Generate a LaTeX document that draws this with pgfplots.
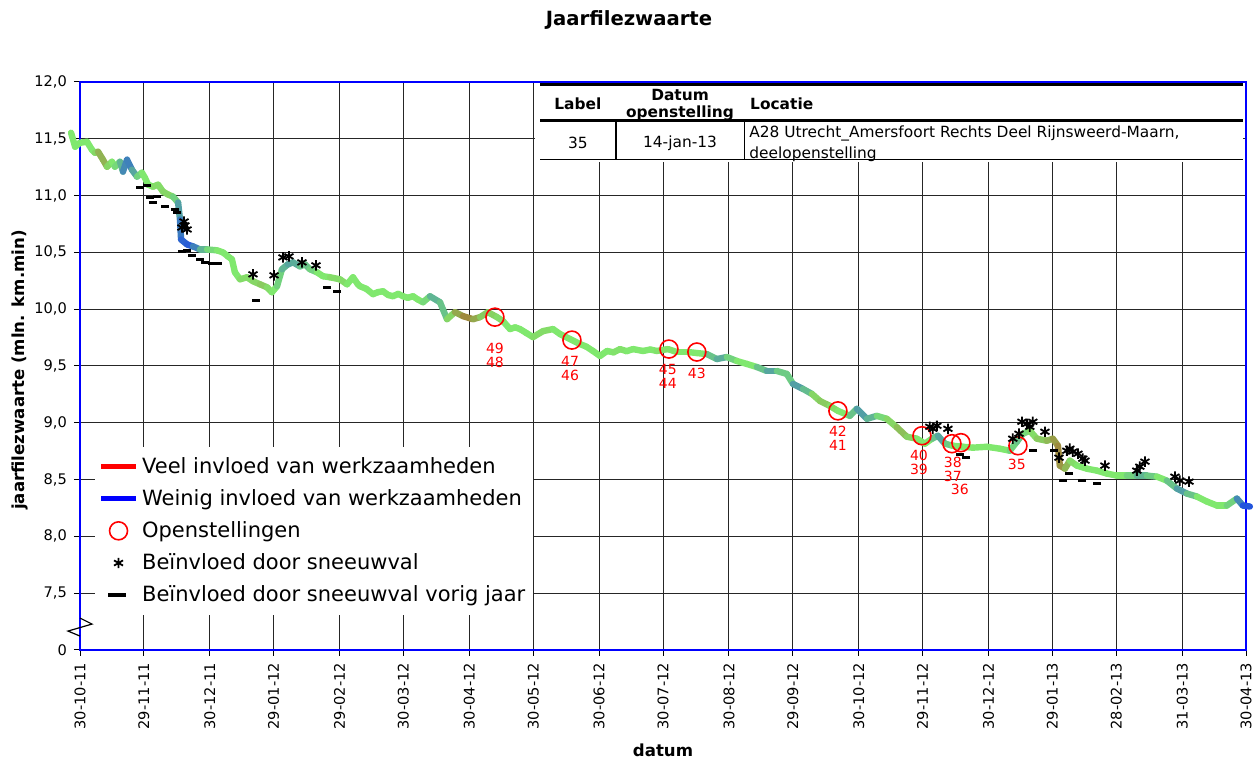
\documentclass[border=0pt]{standalone}
\usepackage{fontspec}
\setmainfont{DejaVu Sans}
\usepackage{pgfplots}
\pgfplotsset{compat=1.18}
\begin{document}
\begin{tikzpicture}
\begin{axis}[
  scale only axis, width=583pt, height=284pt,
  xmin=0, xmax=548, ymin=7, ymax=12,
  clip=false,
  axis line style={blue, line width=1pt},
  xtick={0,30,61,91,122,152,183,213,244,274,305,335,366,396,427,457,487,518,548},
  xticklabels={30-10-11,29-11-11,30-12-11,29-01-12,29-02-12,30-03-12,30-04-12,30-05-12,30-06-12,30-07-12,30-08-12,29-09-12,30-10-12,29-11-12,30-12-12,29-01-13,28-02-13,31-03-13,30-04-13},
  xticklabel style={rotate=90, anchor=east, font=\fontsize{7.3}{8}\selectfont},
  ytick={7,7.5,8,8.5,9,9.5,10,10.5,11,11.5,12},
  yticklabels={0,{7,5},{8,0},{8,5},{9,0},{9,5},{10,0},{10,5},{11,0},{11,5},{12,0}},
  yticklabel style={font=\fontsize{7.3}{8}\selectfont},
  xtick pos=left, ytick pos=left,
  grid=major, major grid style={black!85, line width=0.5pt},
  tick align=outside, major tick length=3pt, tick style={black, line width=0.5pt},
  xlabel={datum}, ylabel={jaarfilezwaarte (mln. km.min)},
  xlabel style={at={(axis description cs:0.5,-0.176)}, anchor=center, font=\bfseries\fontsize{8.3}{10}\selectfont},
  ylabel style={at={(axis description cs:-0.0515,0.493)}, anchor=center, font=\bfseries\fontsize{8.3}{10}\selectfont},
  colormap={wz}{rgb255=(165,115,50) rgb255=(128,232,110) rgb255=(35,85,220)},
  point meta min=-1, point meta max=1,
  legend cell align=left,
  legend style={at={(rel axis cs:0.0125,0.358)}, anchor=north west, draw=none, fill=white,
    font=\fontsize{10.5}{12}\selectfont, row sep=2.6pt, inner xsep=2pt, inner ysep=3pt},
]
\addplot[mesh, point meta=explicit, line width=3.2pt, line cap=round, line join=round, forget plot, shader=flat]
 table[x=d, y=v, meta=c] {
d v c
-4.2 11.553 0
-2.3 11.430 0
0 11.465 0
3.3 11.474 0
5.6 11.404 0
7.0 11.377 0
8.5 11.386 -0.3
10.8 11.316 -0.6
12.7 11.254 -0.3
15.0 11.298 0
16.4 11.254 0
18.8 11.298 0.2
20.2 11.211 0.5
22.1 11.316 0.8
24.4 11.228 0.6
26.8 11.167 0.3
29.1 11.202 0
30.5 11.158 0
32.0 11.096 0
34.3 11.079 0
36.7 11.096 -0.2
39.0 11.035 0
41.4 11.009 -0.3
43.7 10.991 0
46.1 10.939 0.3
47.0 10.789 0.7
47.5 10.614 0.8
50.3 10.570 1
53.1 10.553 0.9
56.4 10.526 0.5
59.7 10.526 0.2
64.4 10.518 0
67.2 10.500 0
69.5 10.465 0
71.4 10.439 0
72.8 10.325 0
75.2 10.263 0
78.5 10.281 -0.2
81.3 10.246 0
84.6 10.219 -0.3
87.9 10.193 -0.2
90.2 10.149 0
92.6 10.202 0
94.9 10.351 0.3
97.7 10.395 0.4
100.1 10.412 0.5
103.4 10.377 0.3
105.7 10.395 0.2
108.1 10.351 0.3
111.4 10.325 0
114.2 10.290 0
117.5 10.281 0
122.2 10.263 -0.2
125.5 10.219 0
128.3 10.281 0
130.6 10.219 0
131.6 10.202 0
134.5 10.180 0
137.7 10.132 0
140.0 10.150 0
142.4 10.158 0
144.8 10.125 0
147.1 10.114 0
149.5 10.135 0
151.8 10.114 0
154.0 10.100 0
156.5 10.114 0
158.8 10.085 0
161.2 10.061 0
164.5 10.114 0.2
169.2 10.061 0.5
172.5 9.912 0
176.2 9.974 -0.3
180.0 9.939 -0.8
184.7 9.912 -0.8
188.0 9.930 -0.3
191.7 9.974 -0.2
196.0 9.930 -0.2
198.8 9.895 0
202.1 9.825 0
204.5 9.840 0
206.8 9.825 0
209.8 9.790 0
212.9 9.754 0
217.6 9.807 -0.2
222.3 9.825 0
225.6 9.781 0
230.3 9.737 0
235.0 9.693 0
238.0 9.670 0
241.1 9.632 0
244.4 9.588 0
247.7 9.632 0
250.8 9.620 0
253.8 9.649 -0.1
256.9 9.630 0
259.9 9.649 0
264.6 9.632 0
268.0 9.645 0
271.1 9.632 0
276.3 9.649 -0.1
280.5 9.623 0
285.7 9.623 0
289.9 9.614 0
294.6 9.605 0
299.3 9.561 0.5
304.0 9.579 0.3
308.7 9.544 0
313.4 9.518 0
318.1 9.491 0
322.8 9.456 0.5
327.5 9.456 0.4
332.2 9.430 0
335.1 9.342 0.4
339.8 9.298 0.6
344.0 9.254 0
347.7 9.193 -0.3
352.4 9.149 -0.2
356.2 9.105 0
361.8 9.061 0
365.1 9.123 0.5
369.8 9.035 0.5
374.5 9.061 0.2
379.2 9.035 0
383.9 8.960 -0.3
388.6 8.877 -0.4
393.3 8.860 0
397.1 8.816 0
400.4 8.860 0
403.2 8.886 0.5
406.5 8.816 0.4
410.2 8.798 0
414.9 8.789 0
419.6 8.781 0
426.2 8.789 0
432.3 8.772 0
437.0 8.754 0
440.3 8.833 0.3
443.1 8.904 0.2
446.4 8.930 0
449.7 8.860 -0.2
454.4 8.842 -0.3
457.2 8.860 -0.5
459.6 8.798 -0.8
460.5 8.623 -0.8
462.9 8.596 -0.6
465.2 8.667 -0.2
468.5 8.623 0
473.2 8.596 0
477.9 8.579 0
482.6 8.553 0
487.3 8.535 0
492.0 8.535 0
496.7 8.535 0.3
501.4 8.535 0.4
506.1 8.526 0
510.8 8.491 0
515.5 8.421 0.5
520.2 8.377 0.5
524.9 8.351 0
529.6 8.307 0
534.3 8.272 0
539.0 8.272 0
543.7 8.333 0.3
546.5 8.272 1
549.8 8.263 1
};
\addlegendimage{red, line width=2.5pt}
\addlegendentry{Veel invloed van werkzaamheden}
\addlegendimage{blue, line width=2.5pt}
\addlegendentry{Weinig invloed van werkzaamheden}
\addplot[only marks, mark=o, mark size=4.5pt, red, line width=0.8pt] coordinates {
(195.0,9.930) (231.2,9.728) (276.8,9.649) (289.9,9.623) (356.2,9.105)
(395.7,8.886) (409.8,8.816) (414.0,8.825) (440.8,8.798)};
\addlegendentry{Openstellingen}
\addplot[only marks, mark=asterisk, mark size=2.6pt, black, line width=0.9pt] coordinates {
(48.9,10.772) (47.9,10.719) (50.3,10.702) (49.3,10.737) (81.3,10.307) (91.2,10.298)
(95.4,10.456) (98.2,10.465) (104.3,10.412) (110.9,10.386)
(399.4,8.965) (400.8,8.947) (402.7,8.974) (407.9,8.947)
(438.4,8.860) (441.3,8.904) (442.7,9.009) (445.0,8.991) (446.4,8.965) (447.8,9.009)
(453.5,8.921) (460.1,8.693) (463.8,8.754) (465.2,8.772) (466.6,8.746) (469.0,8.728)
(471.3,8.684) (472.3,8.667) (481.7,8.623) (496.7,8.579) (498.1,8.614) (500.5,8.658)
(514.6,8.526) (516.9,8.491) (521.2,8.482)};
\addlegendentry{Beïnvloed door sneeuwval}
\addplot[only marks, mark=-, mark size=2pt, black, line width=1.5pt,
  legend image code/.code={\draw[black, line width=2pt] (3.5pt,0pt) -- (12.5pt,0pt);}] coordinates {
(28.2,11.070) (31.5,11.088) (32.9,10.982) (34.3,10.939) (36.2,10.991) (39.9,10.904)
(44.6,10.877) (45.6,10.851) (47.9,10.509) (50.3,10.518) (52.6,10.474) (56.4,10.439)
(58.7,10.412) (62.0,10.404) (64.8,10.404) (82.7,10.079) (116.1,10.193) (120.8,10.158)
(413.5,8.719) (416.4,8.693) (447.8,8.754) (457.7,8.754) (461.9,8.491) (464.8,8.553)
(470.9,8.491) (477.9,8.465)};
\addlegendentry{Beïnvloed door sneeuwval vorig jaar}
% opening labels
\begin{scope}[every node/.style={red, font=\fontsize{7}{7}\selectfont, align=center, inner sep=0pt}]
\node at (axis cs:195.0,9.596) {49\\48};
\node at (axis cs:230.3,9.482) {47\\46};
\node at (axis cs:276.3,9.412) {45\\44};
\node at (axis cs:289.9,9.439) {43};
\node at (axis cs:356.2,8.860) {42\\41};
\node at (axis cs:394.3,8.649) {40\\39};
\node at (axis cs:410.2,8.588) {38\\37};
\node at (axis cs:413.5,8.412) {36};
\node at (axis cs:440.3,8.632) {35};
\end{scope}
% axis break
\draw[black, line width=0.6pt] (axis cs:0,7.281) -- ++(6pt,-3pt) -- ++(-12pt,-3.5pt) -- ++(6pt,-2.5pt);
% table
\fill[white] (axis cs:214,11.99) rectangle (axis cs:546.6,11.30);
\draw[line width=1.5pt] (axis cs:216.2,11.982) -- (axis cs:546.5,11.982);
\draw[line width=1.5pt] (axis cs:216.2,11.658) -- (axis cs:546.5,11.658);
\draw[line width=0.5pt] (axis cs:216.2,11.316) -- (axis cs:546.5,11.316);
\draw[line width=1.2pt] (axis cs:251.9,11.658) -- (axis cs:251.9,11.316);
\draw[line width=0.5pt] (axis cs:312.5,11.658) -- (axis cs:312.5,11.316);
\begin{scope}[every node/.style={font=\fontsize{7.7}{9}\selectfont, inner sep=0pt}]
\node[font=\bfseries\fontsize{7.7}{9}\selectfont] at (axis cs:234.0,11.807) {Label};
\node[font=\bfseries\fontsize{7.7}{9}\selectfont] at (axis cs:282.0,11.886) {Datum};
\node[font=\bfseries\fontsize{7.7}{9}\selectfont] at (axis cs:282.0,11.728) {openstelling};
\node[font=\bfseries\fontsize{7.7}{9}\selectfont, anchor=west] at (axis cs:314.8,11.807) {Locatie};
\node at (axis cs:234.0,11.465) {35};
\node at (axis cs:282.0,11.465) {14-jan-13};
\node[anchor=west] at (axis cs:314.4,11.544) {A28 Utrecht\_Amersfoort Rechts Deel Rijnsweerd-Maarn,};
\node[anchor=west] at (axis cs:314.4,11.368) {deelopenstelling};
\end{scope}
% title
\node[font=\bfseries\fontsize{9.8}{12}\selectfont] at (axis cs:258,12.544) {Jaarfilezwaarte};
\end{axis}
\path (current axis.south west) ++(-40pt,-54pt) coordinate (bl);
\path (current axis.north east) ++(6pt,41pt) coordinate (tr);
\pgfresetboundingbox
\path[use as bounding box] (bl) rectangle (tr);
\end{tikzpicture}
\end{document}
